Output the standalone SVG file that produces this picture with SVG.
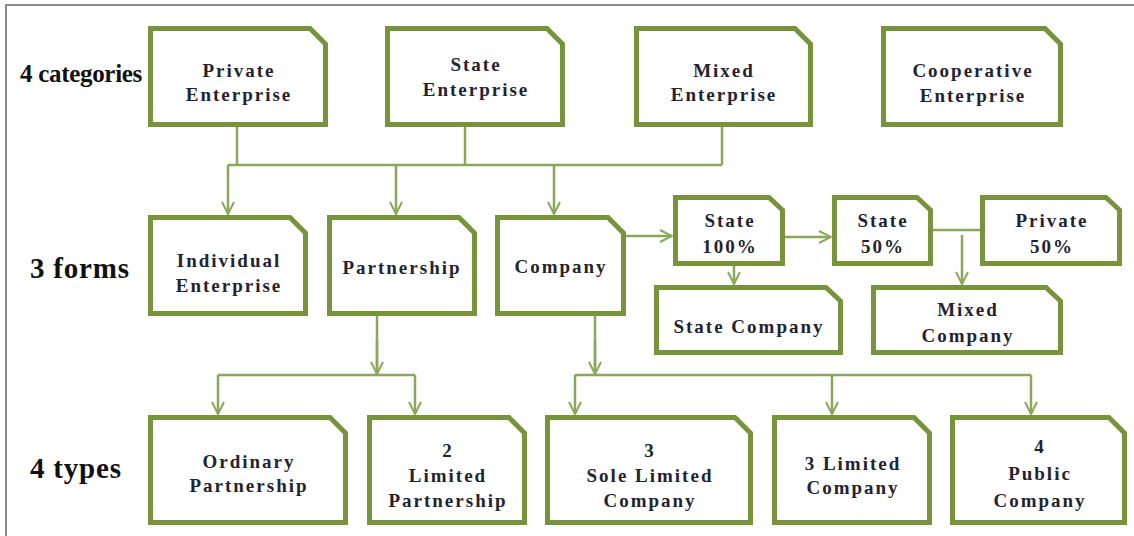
<svg xmlns="http://www.w3.org/2000/svg" width="1134" height="536" viewBox="0 0 1134 536">
<defs>
<style>
.n{fill:#fff;stroke:#77933c;stroke-width:5;stroke-linejoin:miter}
.t{font-family:"Liberation Serif","Times New Roman",serif;font-weight:bold;font-size:19px;letter-spacing:2px;fill:#23232f;text-anchor:middle}
.lbl{font-family:"Liberation Serif","Times New Roman",serif;font-weight:bold;fill:#111}
.c{fill:none;stroke:#8aa85c;stroke-width:2.5}
.a{marker-end:url(#ah)}
</style>
<marker id="ah" viewBox="0 0 14 14" refX="13" refY="7" markerWidth="14" markerHeight="14" markerUnits="userSpaceOnUse" orient="auto">
<path d="M1,1 L13,7 L1,13" fill="none" stroke="#8aa85c" stroke-width="2"/>
</marker>
</defs>
<rect width="1134" height="536" fill="#fff"/>
<path d="M6,536 V5 H1134" fill="none" stroke="#8c8c8c" stroke-width="2"/>

<g id="labels">
<text class="lbl" x="20" y="82" font-size="25" letter-spacing="-0.3">4 categories</text>
<text class="lbl" x="30" y="278" font-size="29" letter-spacing="0.8">3 forms</text>
<text class="lbl" x="30" y="478" font-size="29" letter-spacing="0.8">4 types</text>
</g>

<g id="connectors">
<path class="c" d="M237,127 V165 M465,127 V165 M722,127 V165 M228,165 H722"/>
<path class="c a" d="M228,165 V214"/>
<path class="c a" d="M396,165 V214"/>
<path class="c a" d="M554,165 V214"/>
<path class="c a" d="M626,236 H672"/>
<path class="c a" d="M785,237 H831"/>
<path class="c a" d="M734,266 V284"/>
<path class="c" d="M933,230 H980"/>
<path class="c a" d="M962,235 V284"/>
<path class="c" d="M377,316 V375 M218,375 H415"/>
<path class="c a" d="M377,340 V374"/>
<path class="c a" d="M218,375 V414"/>
<path class="c a" d="M415,375 V414"/>
<path class="c" d="M595,316 V375 M575,375 H1031"/>
<path class="c a" d="M595,340 V374"/>
<path class="c a" d="M575,375 V414"/>
<path class="c a" d="M832,375 V414"/>
<path class="c a" d="M1031,375 V414"/>
</g>

<g id="private-enterprise">
<path class="n" d="M150.5,28.5 H310 L325.5,44 V124.5 H150.5 Z"/>
<text class="t" x="239" y="77">Private</text>
<text class="t" x="239" y="101">Enterprise</text>
</g>
<g id="state-enterprise">
<path class="n" d="M387.5,28.5 H547 L562.5,44 V124.5 H387.5 Z"/>
<text class="t" x="476" y="71">State</text>
<text class="t" x="476" y="96">Enterprise</text>
</g>
<g id="mixed-enterprise">
<path class="n" d="M636.5,28.5 H795 L810.5,44 V124.5 H636.5 Z"/>
<text class="t" x="724" y="77">Mixed</text>
<text class="t" x="724" y="101">Enterprise</text>
</g>
<g id="cooperative-enterprise">
<path class="n" d="M883.5,28.5 H1045 L1060.5,44 V124.5 H883.5 Z"/>
<text class="t" x="973" y="77">Cooperative</text>
<text class="t" x="973" y="102">Enterprise</text>
</g>

<g id="individual-enterprise">
<path class="n" d="M150.5,217.5 H290 L305.5,233 V313.5 H150.5 Z"/>
<text class="t" x="229" y="267">Individual</text>
<text class="t" x="229" y="292">Enterprise</text>
</g>
<g id="partnership">
<path class="n" d="M329.5,217.5 H459 L474.5,233 V313.5 H329.5 Z"/>
<text class="t" x="402" y="274">Partnership</text>
</g>
<g id="company">
<path class="n" d="M497.5,217.5 H608 L623.5,233 V313.5 H497.5 Z"/>
<text class="t" x="561" y="273">Company</text>
</g>
<g id="state-100">
<path class="n" d="M675.5,197.5 H769 L782.5,210 V263.5 H675.5 Z"/>
<text class="t" x="730" y="227">State</text>
<text class="t" x="730" y="253">100%</text>
</g>
<g id="state-company">
<path class="n" d="M656.5,287.5 H826 L840.5,301 V352.5 H656.5 Z"/>
<text class="t" x="749" y="333">State Company</text>
</g>
<g id="state-50">
<path class="n" d="M834.5,197.5 H917 L930.5,210 V263.5 H834.5 Z"/>
<text class="t" x="883" y="227">State</text>
<text class="t" x="883" y="253">50%</text>
</g>
<g id="private-50">
<path class="n" d="M982.5,197.5 H1106 L1119.5,210 V263.5 H982.5 Z"/>
<text class="t" x="1052" y="227">Private</text>
<text class="t" x="1052" y="253">50%</text>
</g>
<g id="mixed-company">
<path class="n" d="M873.5,287.5 H1046 L1060.5,301 V352.5 H873.5 Z"/>
<text class="t" x="968" y="316">Mixed</text>
<text class="t" x="968" y="342">Company</text>
</g>

<g id="ordinary-partnership">
<path class="n" d="M150.5,417.5 H330 L345.5,433 V522.5 H150.5 Z"/>
<text class="t" x="249" y="468">Ordinary</text>
<text class="t" x="249" y="492">Partnership</text>
</g>
<g id="limited-partnership">
<path class="n" d="M369.5,417.5 H509 L524.5,433 V522.5 H369.5 Z"/>
<text class="t" x="448" y="457">2</text>
<text class="t" x="448" y="482">Limited</text>
<text class="t" x="448" y="507">Partnership</text>
</g>
<g id="sole-limited-company">
<path class="n" d="M547.5,417.5 H735 L750.5,433 V522.5 H547.5 Z"/>
<text class="t" x="650" y="457">3</text>
<text class="t" x="650" y="482">Sole Limited</text>
<text class="t" x="650" y="507">Company</text>
</g>
<g id="limited-company">
<path class="n" d="M774.5,417.5 H914 L929.5,433 V522.5 H774.5 Z"/>
<text class="t" x="853" y="470">3 Limited</text>
<text class="t" x="853" y="494">Company</text>
</g>
<g id="public-company">
<path class="n" d="M952.5,417.5 H1109 L1124.5,433 V522.5 H952.5 Z"/>
<text class="t" x="1040" y="453">4</text>
<text class="t" x="1040" y="480">Public</text>
<text class="t" x="1040" y="507">Company</text>
</g>
</svg>
